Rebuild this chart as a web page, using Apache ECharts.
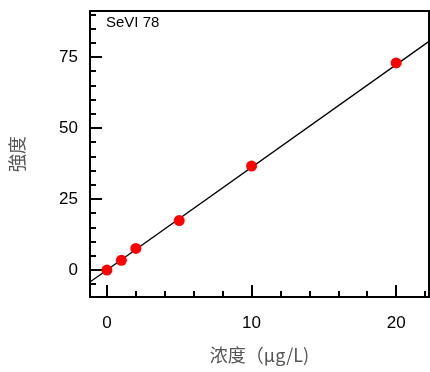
<!DOCTYPE html>
<html><head><meta charset="utf-8">
<script src="https://cdn.jsdelivr.net/npm/echarts@6/dist/echarts.min.js"></script>
<style>html,body{margin:0;padding:0;background:#fff}#c{width:430px;height:372px}</style>
</head><body><div id="c"></div>
<script>
const concentrations = [0, 1, 2, 5, 10, 20];
const intensities = [0, 3.4, 7.6, 17.4, 36.6, 72.9];
const fitX = [-1.17, 22.27];
const fitY = [-4.2, 80.5];
const xMajorTicks = [0, 10, 20];
const xMinorTicks = [2, 4, 6, 8, 12, 14, 16, 18, 22];
const yMajorTicks = [0, 25, 50, 75];
const yMinorTicks = [-5, 5, 10, 15, 20, 30, 35, 40, 45, 55, 60, 65, 70, 80, 85, 90];
const xRange = [-1.17, 22.27];
const yRange = [-9.5, 91.2];
const sampleName = 'SeVI 78';
const xTitle = '浓度（μg/L)';
const yTitle = '強度';

const chart = echarts.init(document.getElementById('c'));
const fontLatin = 'Liberation Sans, Arial, sans-serif';
const axisBase = (type) => ({
  type: 'value', min: type === 'x' ? xRange[0] : yRange[0], max: type === 'x' ? xRange[1] : yRange[1],
  splitLine: { show: false }, axisLine: { show: false, onZero: false }
});
chart.setOption({
  animation: false,
  grid: { left: 88, right: 1, top: 11, bottom: 75, show: true, borderColor: '#000', borderWidth: 2, containLabel: false },
  graphic: [{ type: 'text', left: 106, top: 15, style: { text: sampleName, font: '15px Liberation Sans, Arial, sans-serif', fill: '#000' } }],
  xAxis: [
    Object.assign(axisBase('x'), {
      position: 'bottom',
      name: xTitle, nameLocation: 'middle', nameGap: 49,
      nameTextStyle: { fontFamily: 'Noto Sans CJK SC', fontSize: 18, color: '#555' },
      axisTick: { show: true, inside: true, length: 12, lineStyle: { color: '#000', width: 2 }, customValues: xMajorTicks },
      axisLabel: { show: true, margin: 18, fontFamily: fontLatin, fontSize: 17, color: '#000', customValues: xMajorTicks }
    }),
    Object.assign(axisBase('x'), {
      position: 'bottom',
      axisTick: { show: true, inside: true, length: 6, lineStyle: { color: '#000', width: 2 }, customValues: xMinorTicks },
      axisLabel: { show: false }
    })
  ],
  yAxis: [
    Object.assign(axisBase('y'), {
      position: 'left',
      name: yTitle, nameLocation: 'middle', nameGap: 64, nameRotate: 90,
      nameTextStyle: { fontFamily: 'Noto Sans CJK JP', fontSize: 18, color: '#555' },
      axisTick: { show: true, inside: true, length: 12, lineStyle: { color: '#000', width: 2 }, customValues: yMajorTicks },
      axisLabel: { show: true, margin: 12, fontFamily: fontLatin, fontSize: 17, color: '#000', customValues: yMajorTicks }
    }),
    Object.assign(axisBase('y'), {
      position: 'left',
      axisTick: { show: true, inside: true, length: 6, lineStyle: { color: '#000', width: 2 }, customValues: yMinorTicks },
      axisLabel: { show: false }
    })
  ],
  series: [
    { type: 'line', data: fitX.map((x, i) => [x, fitY[i]]), symbol: 'none', lineStyle: { color: '#000', width: 1.3 }, z: 2, clip: true },
    { type: 'scatter', data: concentrations.map((x, i) => [x, intensities[i]]), symbolSize: 11, itemStyle: { color: '#ff0000', opacity: 1 }, z: 3 }
  ]
});
</script></body></html>
